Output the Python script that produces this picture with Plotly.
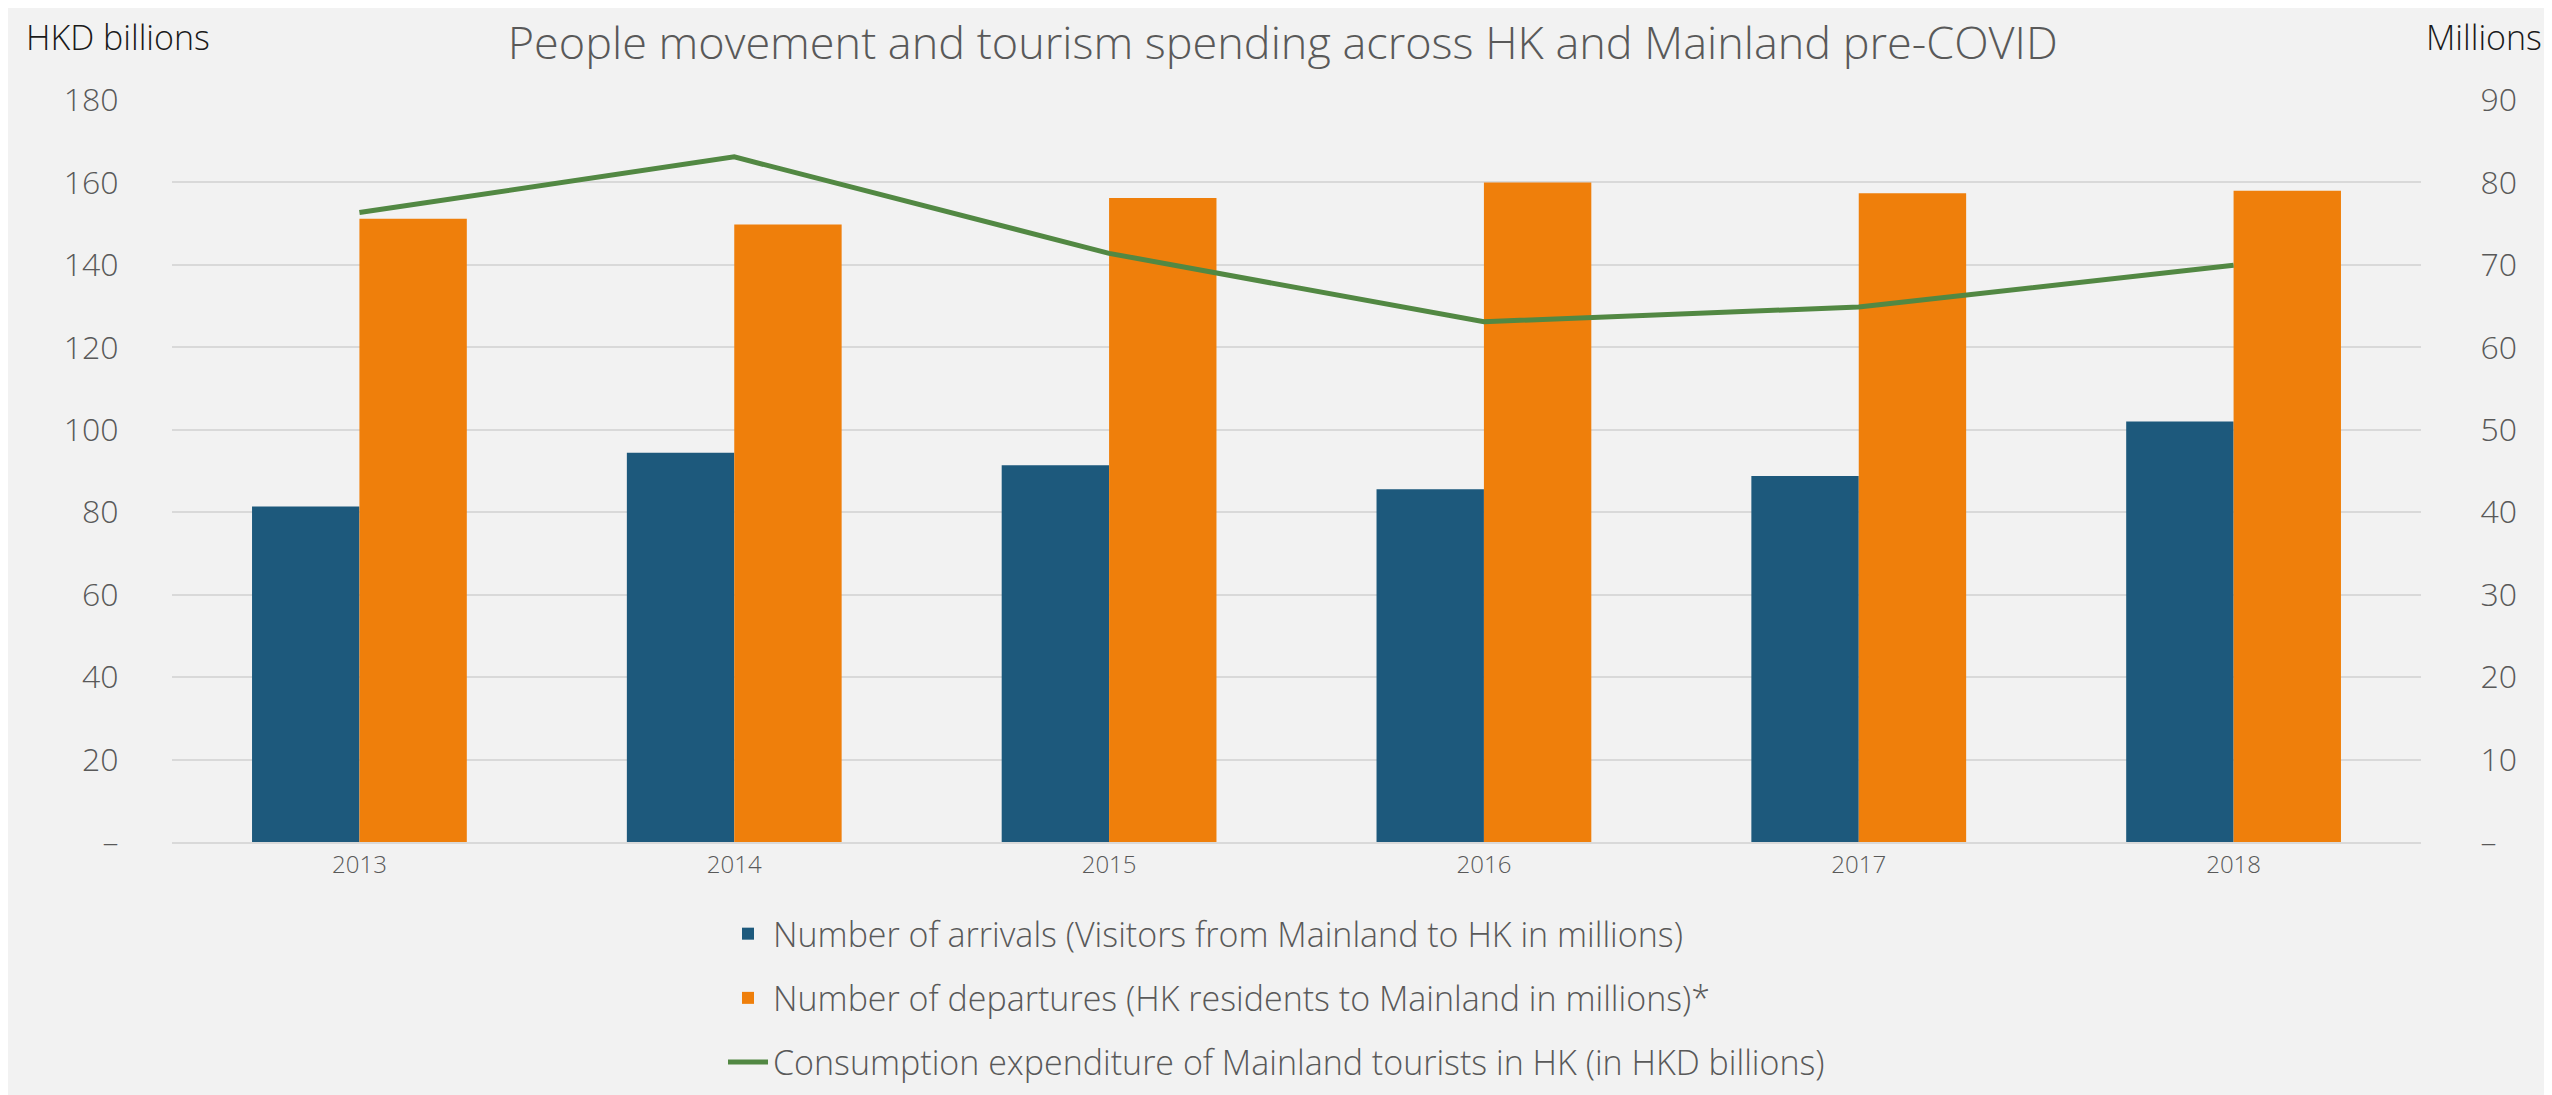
import plotly.graph_objects as go

years = ["2013", "2014", "2015", "2016", "2017", "2018"]
arrivals = [40.7, 47.2, 45.7, 42.8, 44.4, 51.0]
departures = [75.6, 74.9, 78.1, 80.0, 78.7, 79.0]
consumption = [152.7, 166.2, 142.8, 126.2, 129.8, 139.9]

left_vals = [0, 20, 40, 60, 80, 100, 120, 140, 160, 180]
left_text = ["–", "20", "40", "60", "80", "100", "120", "140", "160", "180"]
right_vals = [0, 10, 20, 30, 40, 50, 60, 70, 80, 90]
right_text = ["–", "10", "20", "30", "40", "50", "60", "70", "80", "90"]

FONT = "Segoe UI Light, Open Sans, Lato, sans-serif"
BLUE = "#1D597C"
ORANGE = "#EF7F0B"
GREEN = "#528843"
GRAY = "#595959"

fig = go.Figure()
fig.add_trace(go.Bar(
    x=years, y=arrivals, name="Number of arrivals (Visitors from Mainland to HK in millions)",
    marker=dict(color=BLUE, line=dict(width=0)), yaxis="y", legendgroup="a"))
fig.add_trace(go.Bar(
    x=years, y=departures, name="Number of departures (HK residents to Mainland in millions)*",
    marker=dict(color=ORANGE, line=dict(width=0)), yaxis="y", legendgroup="b"))
fig.add_trace(go.Scatter(
    x=years, y=consumption, mode="lines",
    name="Consumption expenditure of Mainland tourists in HK (in HKD billions)",
    line=dict(color=GREEN, width=5), yaxis="y2", legendgroup="c"))

fig.update_layout(
    width=2552, height=1095,
    paper_bgcolor="#F2F2F2", plot_bgcolor="#F2F2F2",
    margin=dict(l=164, r=139, t=92, b=257),
    font=dict(family=FONT, color=GRAY, weight=300),
    barmode="group", bargap=0.427, bargroupgap=0,
    title=dict(text="People movement and tourism spending across HK and Mainland pre-COVID",
               x=0.4995, xanchor="center", y=0.968, yanchor="middle",
               font=dict(size=45, color=GRAY, family=FONT, weight=300)),
    xaxis=dict(type="category", showgrid=False, showline=True, linecolor="#D9D9D9", linewidth=2,
               ticks="", tickfont=dict(size=24, color=GRAY), zeroline=False, automargin=False),
    yaxis=dict(side="right", range=[0, 90], tickvals=right_vals, ticktext=right_text,
               showgrid=True, gridcolor="#D9D9D9", gridwidth=2, zeroline=False,
               tickfont=dict(size=32, color=GRAY), ticks="outside", ticklen=52,
               tickcolor="rgba(0,0,0,0)", showline=False, automargin=False),
    yaxis2=dict(side="left", overlaying="y", range=[0, 180], tickvals=left_vals, ticktext=left_text,
                showgrid=False, zeroline=False, tickfont=dict(size=32, color=GRAY),
                ticks="outside", ticklen=46, tickcolor="rgba(0,0,0,0)", showline=False,
                automargin=False),
    legend=dict(x=0.245, xanchor="left", y=-0.085, yanchor="top", orientation="v",
                font=dict(size=34, color=GRAY, family=FONT, weight=300),
                bgcolor="rgba(0,0,0,0)", traceorder="grouped", tracegroupgap=17, itemwidth=40),
    showlegend=True,
    annotations=[
        dict(text="HKD billions", xref="paper", yref="paper", x=-0.066, y=1.085,
             xanchor="left", yanchor="middle", showarrow=False,
             font=dict(size=34, color="#1A1A1A", family=FONT, weight=300)),
        dict(text="Millions", xref="paper", yref="paper", x=1.0547, y=1.085,
             xanchor="right", yanchor="middle", showarrow=False,
             font=dict(size=34, color="#1A1A1A", family=FONT, weight=300)),
    ],
)

fig.write_html("out.html")
